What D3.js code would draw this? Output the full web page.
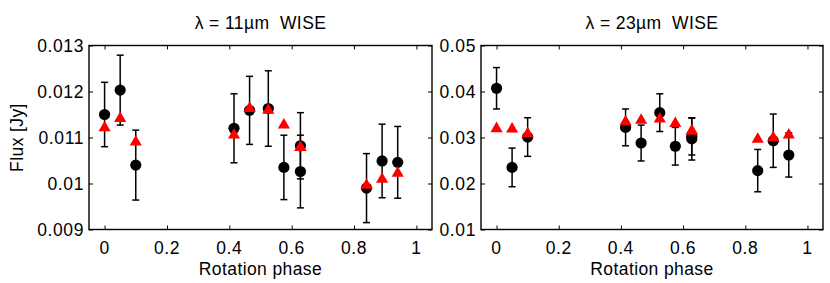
<!DOCTYPE html>
<html>
<head>
<meta charset="utf-8">
<script src="https://cdn.jsdelivr.net/npm/d3@7"></script>
<style>
  body { margin: 0; background: #fff; }
  text { font-family: 'Liberation Sans', Arial, sans-serif; fill: #000; }
</style>
</head>
<body>
<svg id="chart" width="830" height="283"></svg>
<script>
// rotation phase of each observation (two visits at ~0.63)
const phase = [0, 0.05, 0.1, 0.415, 0.465, 0.525, 0.575, 0.628, 0.628, 0.84, 0.89, 0.94]

// 11 micron WISE
const flux11 = [0.01150, 0.01203, 0.01040, 0.01120, 0.01159, 0.01163, 0.01035, 0.01082, 0.01026, 0.00990, 0.01049, 0.01046]
const err11 = [0.00070, 0.00076, 0.00076, 0.00075, 0.00074, 0.00082, 0.00070, 0.00072, 0.00079, 0.00075, 0.00080, 0.00078]
const model11 = [0.01125, 0.01145, 0.01094, 0.01109, 0.01167, 0.01163, 0.01131, 0.01082, 0.01082, 0.01000, 0.01013, 0.01026]

// 23 micron WISE
const flux23 = [0.0407, 0.0235, 0.0301, 0.0322, 0.0288, 0.0354, 0.0281, 0.0302, 0.0297, 0.0228, 0.0293, 0.0262]
const err23 = [0.0045, 0.0042, 0.0042, 0.0040, 0.0039, 0.0041, 0.0041, 0.0040, 0.0046, 0.0046, 0.0058, 0.0048]
const model23 = [0.0323, 0.0322, 0.0312, 0.0338, 0.0341, 0.0344, 0.0334, 0.0318, 0.0318, 0.0300, 0.0303, 0.0309]

const xTicks = [0, 0.2, 0.4, 0.6, 0.8, 1]
const xTickLabels = ['0', '0.2', '0.4', '0.6', '0.8', '1']
const yTicks11 = [0.009, 0.010, 0.011, 0.012, 0.013]
const yTickLabels11 = ['0.009', '0.01', '0.011', '0.012', '0.013']
const yTicks23 = [0.01, 0.02, 0.03, 0.04, 0.05]
const yTickLabels23 = ['0.01', '0.02', '0.03', '0.04', '0.05']

const svg = d3.select('#chart')
const plotTop = 45.5
const plotBottom = 229.5
const fontSize = '17.5px'

const drawPanel = ({ left, right, title, yDomain, yTicks, yLabels, flux, err, model, yLabel }) => {
  const x = d3.scaleLinear().domain([-0.05, 1.05]).range([left, right])
  const y = d3.scaleLinear().domain(yDomain).range([plotBottom, plotTop])
  const g = svg.append('g')

  // inward ticks on all four sides, like a boxed matlab axis
  const tickLen = 4
  const axes = [
    d3.axisBottom(x).tickValues(xTicks).tickSize(tickLen).tickFormat(''),
    d3.axisTop(x).tickValues(xTicks).tickSize(tickLen).tickFormat(''),
    d3.axisLeft(y).tickValues(yTicks).tickSize(tickLen).tickFormat(''),
    d3.axisRight(y).tickValues(yTicks).tickSize(tickLen).tickFormat(''),
  ]
  const offsets = [
    `translate(0,${plotBottom - tickLen})`,
    `translate(0,${plotTop + tickLen})`,
    `translate(${left + tickLen},0)`,
    `translate(${right - tickLen},0)`,
  ]
  axes.forEach((ax, i) => {
    const a = g.append('g').attr('transform', offsets[i]).call(ax)
    a.select('.domain').remove()
    a.selectAll('line').attr('stroke', '#000').attr('stroke-width', 1)
  })

  g.append('rect')
    .attr('x', left)
    .attr('y', plotTop)
    .attr('width', right - left)
    .attr('height', plotBottom - plotTop)
    .attr('fill', 'none')
    .attr('stroke', '#000')
    .attr('stroke-width', 1.4)

  g.selectAll('.xlab')
    .data(xTicks)
    .join('text')
    .attr('x', (d) => x(d))
    .attr('y', 253.5)
    .attr('text-anchor', 'middle')
    .style('font-size', fontSize)
    .style('letter-spacing', '0.6px')
    .text((d, i) => xTickLabels[i])

  g.selectAll('.ylab')
    .data(yTicks)
    .join('text')
    .attr('x', left - 5)
    .attr('y', (d) => y(d) + 6)
    .attr('text-anchor', 'end')
    .style('font-size', fontSize)
    .style('letter-spacing', '0.6px')
    .text((d, i) => yLabels[i])

  g.append('text')
    .attr('x', (left + right) / 2)
    .attr('y', 275)
    .attr('text-anchor', 'middle')
    .style('font-size', fontSize)
    .style('letter-spacing', '0.4px')
    .text('Rotation phase')

  g.append('text')
    .attr('x', (left + right) / 2)
    .attr('y', 28.5)
    .attr('text-anchor', 'middle')
    .style('font-size', fontSize)
    .style('letter-spacing', '0.4px')
    .style('white-space', 'pre')
    .text(title)

  if (yLabel) {
    g.append('text')
      .attr('transform', `translate(23,${(plotTop + plotBottom) / 2}) rotate(-90)`)
      .attr('text-anchor', 'middle')
      .style('font-size', fontSize)
      .style('letter-spacing', '0.4px')
      .text(yLabel)
  }

  const obs = phase.map((p, i) => ({ p, v: flux[i], e: err[i], m: model[i] }))

  // error bars
  const capW = 3.5
  const bars = g.selectAll('.ebar').data(obs).join('g').attr('class', 'ebar')
  bars.append('line')
    .attr('x1', (d) => x(d.p))
    .attr('x2', (d) => x(d.p))
    .attr('y1', (d) => y(d.v - d.e))
    .attr('y2', (d) => y(d.v + d.e))
  bars.append('line')
    .attr('x1', (d) => x(d.p) - capW)
    .attr('x2', (d) => x(d.p) + capW)
    .attr('y1', (d) => y(d.v + d.e))
    .attr('y2', (d) => y(d.v + d.e))
  bars.append('line')
    .attr('x1', (d) => x(d.p) - capW)
    .attr('x2', (d) => x(d.p) + capW)
    .attr('y1', (d) => y(d.v - d.e))
    .attr('y2', (d) => y(d.v - d.e))
  bars.selectAll('line').attr('stroke', '#000').attr('stroke-width', 1.5)

  g.selectAll('.obs')
    .data(obs)
    .join('circle')
    .attr('cx', (d) => x(d.p))
    .attr('cy', (d) => y(d.v))
    .attr('r', 5.6)
    .attr('fill', '#000')

  // model triangles on top (shift so the box centre sits on the value)
  const tri = d3.symbol().type(d3.symbolTriangle).size(64)
  g.selectAll('.model')
    .data(obs)
    .join('path')
    .attr('d', tri)
    .attr('transform', (d) => `translate(${x(d.p)},${y(d.m) + 1.7})`)
    .attr('fill', '#ff0000')
}

drawPanel({
  left: 89,
  right: 432,
  title: 'λ = 11µm  WISE',
  yDomain: [0.009, 0.013],
  yTicks: yTicks11,
  yLabels: yTickLabels11,
  flux: flux11,
  err: err11,
  model: model11,
  yLabel: 'Flux [Jy]',
})

drawPanel({
  left: 481,
  right: 823,
  title: 'λ = 23µm  WISE',
  yDomain: [0.01, 0.05],
  yTicks: yTicks23,
  yLabels: yTickLabels23,
  flux: flux23,
  err: err23,
  model: model23,
})
</script>
</body>
</html>
